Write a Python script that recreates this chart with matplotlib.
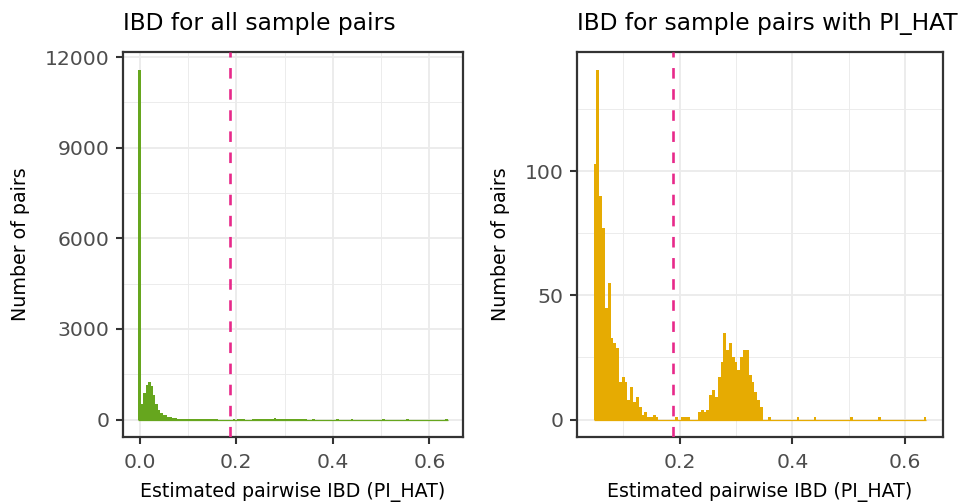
import numpy as np
import matplotlib
matplotlib.use("Agg")
from matplotlib import pyplot as plt
from matplotlib.ticker import MultipleLocator, FormatStrFormatter

# histogram counts, binwidth 0.005
binwidth = 0.005
pihat_cut = 0.1875

# pairs with PI_HAT > 0.05, first bin centred on 0.05
right_start = 0.05
right_counts = [103, 141, 90, 77, 45, 55, 33, 31, 29, 15, 17, 15, 8, 13, 7, 9,
                5, 2, 3, 1, 1, 2, 1,
                0, 0, 0, 0, 0, 0, 1, 0, 1, 1, 1, 0, 0, 0,
                3, 4, 3, 4, 10, 12, 9, 17, 23, 35, 28, 31, 25, 23, 20, 25, 28,
                28, 18, 15, 11, 8, 5, 0, 0, 1,
                0, 0, 0, 0, 0, 0, 0, 0, 0, 1,
                0, 0, 0, 0, 0, 1,
                0, 0, 0, 0, 0, 0, 0, 0, 0, 0, 0, 0, 1,
                0, 0, 0, 0, 0, 0, 0, 0, 0, 1,
                0, 0, 0, 0, 0, 0, 0, 0, 0, 0, 0, 0, 0, 0, 0, 1]

# all pairs, first bin centred on 0; above 0.0525 same as the right panel
left_start = 0.0
left_head = [11590, 500, 882, 1140, 1234, 1110, 820, 505, 315, 220, 140]
left_counts = left_head + right_counts[1:]

green = "#66A61E"
gold = "#E6AB02"
pink = "#E7298A"

W, H = 963, 504
fig = plt.figure(figsize=(W / 100, H / 100), dpi=100)

def px_axes(x0, x1, y0, y1):
    return fig.add_axes([x0 / W, 1 - y1 / H, (x1 - x0) / W, (y1 - y0) / H])

def draw_panel(ax, start, counts, color, ymajor):
    counts = np.array(counts)
    edges = start - binwidth / 2 + np.arange(len(counts) + 1) * binwidth
    lo, hi = edges[0], edges[-1]
    # one filled step outline, so neighbouring bins have no seams
    ax.stairs(counts, edges, fill=True, color=color, lw=0, zorder=2)
    # zero-height bins still show as a thin line in the original
    ax.hlines(0, lo, hi, color=color, lw=0.9, zorder=2)
    ax.axvline(pihat_cut, color=pink, lw=1.9, ls=(0, (4, 4)), zorder=3)
    pad = (hi - lo) * 0.05
    ax.set_xlim(lo - pad, hi + pad)
    ax.set_ylim(-counts.max() * 0.05, counts.max() * 1.05)
    ax.xaxis.set_major_locator(MultipleLocator(0.2))
    ax.xaxis.set_minor_locator(MultipleLocator(0.1))
    ax.yaxis.set_major_locator(MultipleLocator(ymajor))
    ax.yaxis.set_minor_locator(MultipleLocator(ymajor / 2))
    ax.grid(which="major", color="#EBEBEB", lw=1.3, zorder=0)
    ax.grid(which="minor", color="#EBEBEB", lw=0.65, zorder=0)
    ax.set_axisbelow(True)
    for s in ax.spines.values():
        s.set_color("#333333")
        s.set_linewidth(1.6)
    ax.tick_params(which="major", length=5, width=1.5, color="#333333",
                   labelsize=14.7, labelcolor="#4D4D4D")
    ax.tick_params(axis="x", pad=6.5)
    ax.tick_params(axis="y", pad=4.5)
    ax.tick_params(which="minor", length=0)
    ax.xaxis.set_major_formatter(FormatStrFormatter("%.1f"))
    ax.yaxis.set_major_formatter(FormatStrFormatter("%d"))

ax1 = px_axes(123, 463, 52, 437)
draw_panel(ax1, left_start, left_counts, green, 3000)
ax2 = px_axes(577, 943, 52, 437)
draw_panel(ax2, right_start, right_counts, gold, 50)

fig.text(123 / W, 1 - 30 / H, "IBD for all sample pairs", fontsize=16.8,
         ha="left", va="baseline")
# the original title runs past the right edge of the image
fig.text(577 / W, 1 - 30 / H, "IBD for sample pairs with PI_HAT > 0.05",
         fontsize=16.8, ha="left", va="baseline")

for xc in (293, 760):
    fig.text(xc / W, 1 - 497 / H, "Estimated pairwise IBD (PI_HAT)",
             fontsize=13.7, ha="center", va="baseline")
for xc in (20, 500):
    fig.text(xc / W, 1 - 244.5 / H, "Number of pairs", fontsize=13.7,
             rotation=90, ha="center", va="center")

fig.savefig("out.png", dpi=100)
